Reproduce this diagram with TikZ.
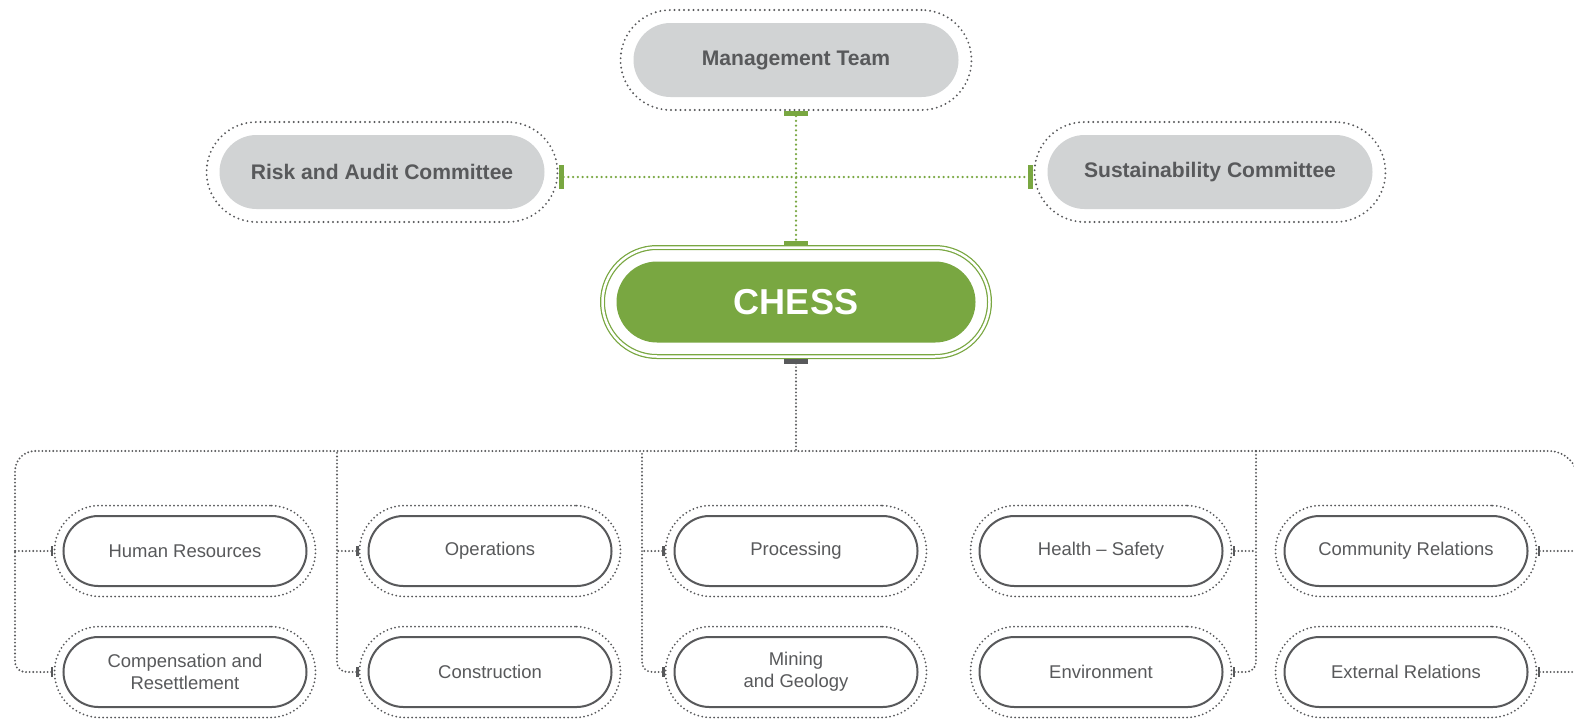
\documentclass[tikz,border=0pt]{standalone}
\usepackage{fontspec}
\setmainfont{Liberation Sans}
\usetikzlibrary{arrows.meta}

\definecolor{cgreen}{RGB}{121,167,65}
\definecolor{cgray}{RGB}{209,211,212}
\definecolor{cdark}{RGB}{88,89,91}

\tikzset{
  board/.style={rectangle, rounded corners=7.4mm, fill=cgray, text=cdark,
    font=\bfseries\fontsize{12}{14}\selectfont,
    minimum width=65mm, minimum height=14.8mm},
  boardhalo/.style={rectangle, rounded corners=10mm, draw=cdark, line width=0.42mm, line cap=round,
    dash pattern=on 0pt off 0.95mm, minimum width=70.2mm, minimum height=20mm},
  chessbox/.style={rectangle, rounded corners=8.1mm, fill=cgreen, text=white,
    font=\bfseries\fontsize{20.5}{24}\selectfont,
    minimum width=71.8mm, minimum height=16.2mm},
  chesshalo/.style={rectangle, rounded corners=10.9mm, draw=cgreen, double=white, line width=0.25mm,
    double distance=0.5mm, outer sep=0.4mm, minimum width=77.4mm, minimum height=21.8mm},
  unit/.style={rectangle, rounded corners=7mm, draw=cdark, line width=0.4mm, text=cdark,
    font=\fontsize{10.5}{12.6}\selectfont, align=center,
    minimum width=48.6mm, minimum height=14mm},
  unithalo/.style={rectangle, rounded corners=9.1mm, draw=cdark, line width=0.4mm, line cap=round,
    dash pattern=on 0pt off 0.8mm, minimum width=52.2mm, minimum height=18.2mm},
  gline/.style={draw=cgreen, line width=0.5mm, line cap=round, dash pattern=on 0pt off 0.95mm},
  bus/.style={draw=cdark, line width=0.42mm, line cap=round, dash pattern=on 0pt off 0.72mm},
  bigtick/.tip={Rectangle[length=1mm,width=4.8mm,line width=0pt]},
  smalltick/.tip={Rectangle[length=0.45mm,width=2mm,line width=0pt]}
}

\begin{document}
\begin{tikzpicture}[x=0.2mm,y=-0.2mm]

\useasboundingbox (0,0) rectangle (1574,719);
\clip (0,0) rectangle (1574,719);
\fill[white] (0,0) rectangle (1574,719);

%committees
\node[board] (mgmt) at (796,60) {Management Team};
\node[boardhalo] (mgmt-h) at (mgmt) {};
\node[board] (risk) at (382,172) {Risk and Audit Committee};
\node[boardhalo] (risk-h) at (risk) {};
\node[board] (sust) at (1210,172) {Sustainability Committee};
\node[boardhalo] (sust-h) at (sust) {};

%CHESS
\node[chessbox] (chess) at (796,302) {CHESS};
\node[chesshalo] (chess-h) at (chess) {};

\draw[gline, bigtick-bigtick] (mgmt-h.south) -- (chess-h.north);
\draw[gline, bigtick-bigtick] ([yshift=-1mm]risk-h.east) -- ([yshift=-1mm]sust-h.west);

%departments
\foreach \nm/\x/\y/\txt in {
  hr/185/551/{Human Resources},
  comp/185/672/{Compensation and\\Resettlement},
  ops/490/551/{Operations},
  constr/490/672/{Construction},
  proc/796/551/{Processing},
  mine/796/672/{Mining\\and Geology},
  health/1101/551/{Health – Safety},
  env/1101/672/{Environment},
  comm/1406/551/{Community Relations},
  extr/1406/672/{External Relations}}
{
  \node[unit] (\nm) at (\x,\y) {\txt};
  \node[unithalo] (\nm-h) at (\nm) {};
}

\coordinate (bus) at (796,451);
\coordinate (b1) at (15,451);
\coordinate (b2) at (337,451);
\coordinate (b3) at (642,451);
\coordinate (b4) at (1256,451);
\coordinate (b5) at (1578,451);

\draw[bus, bigtick-] (chess-h.south) -- (bus);
\draw[bus, rounded corners=2mm, smalltick-] (comp-h.west) -| (hr-h.west -| b1);
\draw[bus, smalltick-] (hr-h.west) -- (hr-h.west -| b1);
\draw[bus, rounded corners=4mm] (hr-h.west -| b1) |- (b4);
\draw[bus, rounded corners=5.8mm] (b4) -- (b5) -- (b5 |- extr-h.east);
\draw[bus, rounded corners=2mm, smalltick-] (constr-h.west) -| (b2);
\draw[bus, smalltick-] (ops-h.west) -- (ops-h.west -| b2);
\draw[bus, rounded corners=2mm, smalltick-] (mine-h.west) -| (b3);
\draw[bus, smalltick-] (proc-h.west) -- (proc-h.west -| b3);
\draw[bus, rounded corners=2mm, smalltick-] (env-h.east) -| (b4);
\draw[bus, smalltick-] (health-h.east) -- (health-h.east -| b4);
\draw[bus, smalltick-] (comm-h.east) -- (comm-h.east -| b5);
\draw[bus, smalltick-] (extr-h.east) -- (extr-h.east -| b5);

\end{tikzpicture}
\end{document}
